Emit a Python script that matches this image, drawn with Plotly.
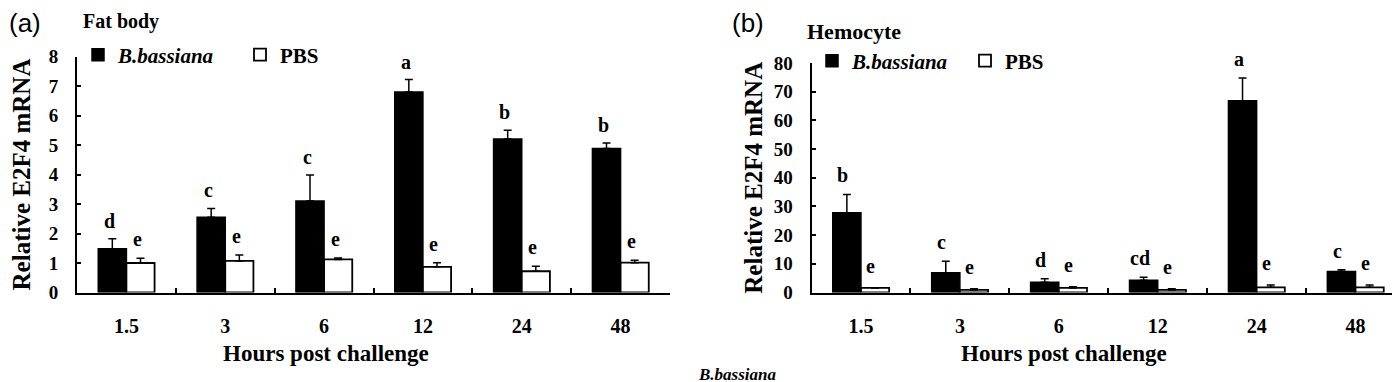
import plotly.graph_objects as go

# ---------------- data ----------------
hours = ["1.5", "3", "6", "12", "24", "48"]

fat_bb = [1.48, 2.55, 3.10, 6.80, 5.20, 4.88]
fat_bb_err = [0.34, 0.30, 0.88, 0.42, 0.30, 0.19]
fat_pbs = [1.00, 1.07, 1.12, 0.87, 0.72, 1.01]
fat_pbs_err = [0.16, 0.20, 0.05, 0.14, 0.17, 0.08]
fat_bb_letters = ["d", "c", "c", "a", "b", "b"]
fat_pbs_letters = ["e", "e", "e", "e", "e", "e"]

hemo_bb = [27.8, 6.9, 3.6, 4.3, 66.8, 7.3]
hemo_bb_err = [6.4, 4.0, 1.2, 1.0, 8.0, 0.6]
hemo_pbs = [1.6, 0.9, 1.6, 0.9, 1.8, 1.8]
hemo_pbs_err = [0.0, 0.4, 0.4, 0.4, 0.8, 0.8]
hemo_bb_letters = ["b", "c", "d", "cd", "a", "c"]
hemo_pbs_letters = ["e", "e", "e", "e", "e", "e"]

fat_yticks = [0, 1, 2, 3, 4, 5, 6, 7, 8]
hemo_yticks = [0, 10, 20, 30, 40, 50, 60, 70, 80]

SERIF = "Liberation Serif"
W, H = 1400, 382


def px_x(p):
    return p / W


def px_y(p):
    return 1 - p / H


fig = go.Figure()


def add_bars(x_ax, y_ax, bb, bb_err, pbs, pbs_err, legend):
    fig.add_trace(go.Bar(
        x=hours, y=bb, name="<i>B.bassiana</i>",
        xaxis=x_ax, yaxis=y_ax, legend=legend,
        marker=dict(color="black", line=dict(color="black", width=1.5)),
        error_y=dict(type="data", array=bb_err, arrayminus=[0] * len(bb_err),
                     symmetric=False, color="black", thickness=1.5, width=4),
    ))
    fig.add_trace(go.Bar(
        x=hours, y=pbs, name="PBS",
        xaxis=x_ax, yaxis=y_ax, legend=legend,
        marker=dict(color="white", line=dict(color="black", width=1.8)),
        error_y=dict(type="data", array=pbs_err, arrayminus=[0] * len(pbs_err),
                     symmetric=False, color="black", thickness=1.5, width=4),
    ))


add_bars("x", "y", fat_bb, fat_bb_err, fat_pbs, fat_pbs_err, "legend")
add_bars("x2", "y2", hemo_bb, hemo_bb_err, hemo_pbs, hemo_pbs_err, "legend2")

annotations = []


def add_letters(xref, yref, vals, errs, letters, xshift, yshift):
    # x given as the category index on the category axis
    for i, (v, e, t) in enumerate(zip(vals, errs, letters)):
        annotations.append(dict(
            x=i, y=v + e, xref=xref, yref=yref, text=t, showarrow=False,
            xshift=xshift, yshift=yshift, yanchor="middle",
            font=dict(family=SERIF, size=20, color="black", weight="bold"),
        ))


add_letters("x", "y", fat_bb, fat_bb_err, fat_bb_letters, -17, 18)
add_letters("x", "y", fat_pbs, fat_pbs_err, fat_pbs_letters, 11, 19)
add_letters("x2", "y2", hemo_bb, hemo_bb_err, hemo_bb_letters, -18, 19)
add_letters("x2", "y2", hemo_pbs, hemo_pbs_err, hemo_pbs_letters, 10, 22)

xtitlefont = dict(family=SERIF, size=23, color="black", weight="bold")

# panel labels, titles and x-axis titles
annotations += [
    dict(text="(a)", x=px_x(16.5), y=px_y(15), xref="paper", yref="paper",
         xanchor="center", yanchor="middle", showarrow=False,
         font=dict(family="Liberation Sans", size=26, color="black")),
    dict(text="Fat body", x=px_x(113), y=px_y(13), xref="paper", yref="paper",
         xanchor="center", yanchor="middle", showarrow=False,
         font=dict(family=SERIF, size=20, color="black", weight="bold")),
    dict(text="(b)", x=px_x(740), y=px_y(15), xref="paper", yref="paper",
         xanchor="center", yanchor="middle", showarrow=False,
         font=dict(family="Liberation Sans", size=26, color="black")),
    dict(text="Hemocyte", x=px_x(846), y=px_y(24), xref="paper", yref="paper",
         xanchor="center", yanchor="middle", showarrow=False,
         font=dict(family=SERIF, size=22, color="black", weight="bold")),
    dict(text="Hours post challenge", x=px_x(318), y=px_y(345), xref="paper", yref="paper",
         xanchor="center", yanchor="middle", showarrow=False, font=xtitlefont),
    dict(text="Hours post challenge", x=px_x(1056), y=px_y(345), xref="paper", yref="paper",
         xanchor="center", yanchor="middle", showarrow=False, font=xtitlefont),
    dict(text="<i>B.bassiana</i>", x=px_x(729), y=px_y(366), xref="paper", yref="paper",
         xanchor="center", yanchor="middle", showarrow=False,
         font=dict(family=SERIF, size=17, color="black", weight="bold")),
]

xtickfont = dict(family=SERIF, size=20, color="black", weight="bold")
ytickfont = dict(family=SERIF, size=19, color="black", weight="bold")
ytitlefont = dict(family=SERIF, size=25, color="black", weight="bold")

xcommon = dict(
    type="category", range=[-0.5, 5.5], autorange=False,
    showline=True, linecolor="black", linewidth=2,
    ticks="inside", tickson="boundaries", ticklen=5, tickwidth=1.5, tickcolor="black",
    tickfont=xtickfont, ticklabelstandoff=14, tickangle=0, showgrid=False, zeroline=False,
    automargin=False, fixedrange=True,
)
ycommon = dict(
    showline=True, linecolor="black", linewidth=2,
    ticks="inside", ticklen=4, tickwidth=1.5, tickcolor="black",
    tickfont=ytickfont, ticklabelstandoff=13, showgrid=False, zeroline=False,
    automargin=False, fixedrange=True,
)

fig.update_layout(
    width=W, height=H,
    margin=dict(l=0, r=0, t=0, b=0),
    paper_bgcolor="white", plot_bgcolor="white",
    barmode="group", bargap=0.43, bargroupgap=0.0,
    xaxis=dict(domain=[px_x(69), px_x(662)], anchor="y", **xcommon),
    yaxis=dict(domain=[px_y(284.5), px_y(48.5)], anchor="x", range=[0, 8],
               tickvals=fat_yticks,
               title=dict(text="Relative E2F4 mRNA", font=ytitlefont, standoff=16),
               **ycommon),
    xaxis2=dict(domain=[px_x(803.5), px_x(1397)], anchor="y2", **xcommon),
    yaxis2=dict(domain=[px_y(284.5), px_y(55)], anchor="x2", range=[0, 80],
                tickvals=hemo_yticks,
                title=dict(text="Relative E2F4 mRNA", font=ytitlefont, standoff=4),
                **ycommon),
    legend=dict(orientation="h", x=px_x(70), y=px_y(47), xanchor="left", yanchor="middle",
                bgcolor="rgba(0,0,0,0)", borderwidth=0, entrywidth=117,
                font=dict(family=SERIF, size=21, color="black", weight="bold"),
                itemclick=False, itemdoubleclick=False),
    legend2=dict(orientation="h", x=px_x(804), y=px_y(53), xanchor="left", yanchor="middle",
                 bgcolor="rgba(0,0,0,0)", borderwidth=0, entrywidth=108,
                 font=dict(family=SERIF, size=21, color="black", weight="bold"),
                 itemclick=False, itemdoubleclick=False),
    annotations=annotations,
    showlegend=True,
)

fig.write_html("out.html")
